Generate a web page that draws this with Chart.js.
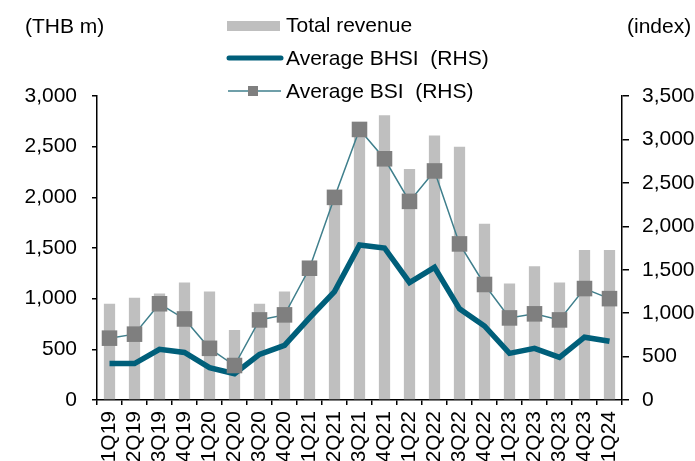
<!DOCTYPE html>
<html>
<head>
<meta charset="utf-8">
<script src="https://cdn.jsdelivr.net/npm/chart.js@4"></script>
<style>
  body { margin: 0; background: #fff; overflow: hidden; }
  #wrap { width: 695px; height: 461px; }
</style>
</head>
<body>
<div id="wrap"><canvas id="chart" width="695" height="461"></canvas></div>
<script>
const quarters = ['1Q19', '2Q19', '3Q19', '4Q19', '1Q20', '2Q20', '3Q20', '4Q20', '1Q21', '2Q21', '3Q21',
  '4Q21', '1Q22', '2Q22', '3Q22', '4Q22', '1Q23', '2Q23', '3Q23', '4Q23', '1Q24'];
const totalRevenue = [950, 1010, 1050, 1160, 1070, 690, 950, 1070, 1300, 1980, 2700,
  2810, 2280, 2610, 2500, 1740, 1150, 1320, 1160, 1480, 1480];
const avgBHSI = [420, 420, 583, 548, 373, 303, 525, 630, 945, 1248, 1785,
  1750, 1353, 1528, 1050, 852, 537, 595, 490, 723, 677];
const avgBSI = [712, 758, 1108, 933, 595, 397, 922, 980, 1517, 2333, 3115,
  2777, 2287, 2637, 1797, 1330, 945, 992, 922, 1283, 1167];

const FONT = 'Liberation Sans, Arial, sans-serif';

// legend and unit labels drawn by hand, stacked like the original
const extras = {
  id: 'extras',
  afterDraw(chart) {
    const ctx = chart.ctx;
    const ds = chart.data.datasets;
    ctx.save();
    ctx.fillStyle = '#000';
    ctx.font = '21px ' + FONT;
    ctx.textBaseline = 'middle';
    ctx.textAlign = 'left';
    ctx.fillText('(THB m)', 25, 27);
    ctx.fillText('(index)', 627, 27);

    ctx.fillStyle = ds[0].backgroundColor;
    ctx.fillRect(227, 21, 53, 10);
    ctx.fillStyle = '#000';
    ctx.fillText('Total revenue', 286, 26);

    ctx.strokeStyle = ds[1].borderColor;
    ctx.lineWidth = 5;
    ctx.lineCap = 'round';
    ctx.beginPath(); ctx.moveTo(229, 58); ctx.lineTo(281, 58); ctx.stroke();
    ctx.fillText('Average BHSI  (RHS)', 286, 59);

    ctx.strokeStyle = ds[2].borderColor;
    ctx.lineWidth = 1.5;
    ctx.lineCap = 'butt';
    ctx.beginPath(); ctx.moveTo(228, 91); ctx.lineTo(281, 91); ctx.stroke();
    ctx.fillStyle = ds[2].pointBackgroundColor;
    ctx.fillRect(248, 86, 10, 10);
    ctx.fillStyle = '#000';
    ctx.fillText('Average BSI  (RHS)', 286, 92);
    ctx.restore();
  }
};

new Chart(document.getElementById('chart'), {
  data: {
    labels: quarters,
    datasets: [
      {
        type: 'bar', label: 'Total revenue', data: totalRevenue, yAxisID: 'y',
        backgroundColor: '#bfbfbf', barPercentage: 0.45, categoryPercentage: 1, order: 3
      },
      {
        type: 'line', label: 'Average BHSI  (RHS)', data: avgBHSI, yAxisID: 'y1',
        borderColor: '#005f7a', borderWidth: 5.5, pointRadius: 0, tension: 0, order: 2
      },
      {
        type: 'line', label: 'Average BSI  (RHS)', data: avgBSI, yAxisID: 'y1',
        borderColor: '#3f7f8c', borderWidth: 1.5, pointStyle: 'rect', pointRadius: 11,
        pointBackgroundColor: '#7f7f7f', pointBorderColor: '#7f7f7f', pointBorderWidth: 0,
        tension: 0, order: 1
      }
    ]
  },
  options: {
    responsive: false,
    animation: false,
    layout: { padding: { top: 96, left: 0, right: 0, bottom: 0 } },
    plugins: { legend: { display: false }, tooltip: { enabled: false } },
    scales: {
      x: {
        offset: true,
        afterFit: s => { s.height = 61; },
        border: { color: '#000', width: 1.5 },
        grid: { display: true, drawOnChartArea: false, offset: true, color: '#000', lineWidth: 1.5, tickLength: 5 },
        ticks: {
          color: '#000', font: { family: FONT, size: 21 }, minRotation: 90, maxRotation: 90,
          padding: 6, autoSkip: false
        }
      },
      y: {
        position: 'left', min: 0, max: 3000,
        afterFit: s => { s.width = 97; },
        border: { color: '#000', width: 1.5 },
        grid: { drawOnChartArea: false, color: '#000', lineWidth: 1.5, tickLength: 5 },
        ticks: {
          stepSize: 500, color: '#000', padding: 15, font: { family: FONT, size: 21 },
          callback: v => v.toLocaleString('en-US')
        }
      },
      y1: {
        position: 'right', min: 0, max: 3500,
        afterFit: s => { s.width = 73; },
        border: { color: '#000', width: 1.5 },
        grid: { drawOnChartArea: false, color: '#000', lineWidth: 1.5, tickLength: 7 },
        ticks: {
          stepSize: 500, color: '#000', padding: 13, font: { family: FONT, size: 21 },
          callback: v => v.toLocaleString('en-US')
        }
      }
    }
  },
  plugins: [extras]
});
</script>
</body>
</html>
